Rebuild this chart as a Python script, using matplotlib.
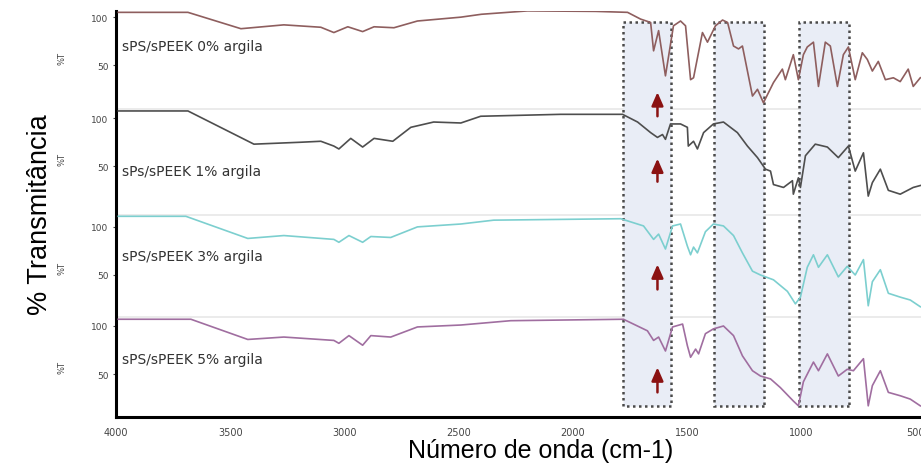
import numpy as np
import matplotlib
matplotlib.use('Agg')
import matplotlib.pyplot as plt
from matplotlib.transforms import blended_transform_factory

# --- data (wavenumber in cm-1, transmittance in %) ---
labels = ['sPS/sPEEK 0% argila', 'sPs/sPEEK 1% argila',
          'sPS/sPEEK 3% argila', 'sPS/sPEEK 5% argila']
colors = ['#8e5e5e', '#4e4e4e', '#7ccfcf', '#a06ea0']

w0 = [3990, 3685, 3453, 3265, 3103, 3046, 2985, 2920, 2870, 2783,
      2680, 2490, 2400, 2198, 1900, 1760, 1703, 1659, 1646, 1624,
      1594, 1559, 1528, 1506, 1484, 1471, 1432, 1410, 1375, 1344,
      1322, 1296, 1274, 1257, 1213, 1191, 1165, 1121, 1082, 1069,
      1034, 1012, 990, 973, 946, 924, 894, 872, 841, 815,
      793, 763, 732, 710, 688, 662, 631, 596, 566, 531, 509, 478]
t0 = [105, 105, 88, 92, 89.5, 84, 90, 85, 90, 89,
      96, 100, 103, 106.5, 106, 105, 98, 94.5, 65, 86,
      39, 91, 96, 91, 35, 37, 84, 74, 91, 97,
      94.5, 70, 67, 70, 18, 25, 11, 32, 46, 35,
      61, 35, 61, 69, 74, 28, 74, 70, 28, 61,
      69, 35, 63, 56, 44, 54, 35, 37, 33, 46, 28, 37]

w1 = [3990, 3685, 3396, 3190, 3103, 3046, 3024, 2972, 2920, 2870,
      2788, 2709, 2609, 2490, 2403, 2053, 1782, 1716, 1659, 1629,
      1607, 1594, 1572, 1528, 1498, 1494, 1471, 1454, 1427, 1384,
      1340, 1279, 1235, 1191, 1156, 1134, 1121, 1077, 1038, 1034,
      1012, 1003, 981, 938, 885, 837, 793, 763, 727, 706,
      688, 653, 618, 566, 509, 478]
t1 = [107.5, 107.5, 73, 75, 76, 71, 68, 79, 70, 79,
      76, 90.5, 96, 95, 102, 104, 104, 96, 85, 80,
      83, 78, 94, 94, 90.5, 71, 76, 68, 85, 94,
      96, 85, 71, 59, 47, 45, 31, 28, 35, 21,
      38, 28, 61, 73, 70, 59, 71, 45, 64, 19,
      33, 47, 25, 21, 28, 30]

w2 = [3990, 3694, 3423, 3265, 3046, 3024, 2980, 2920, 2884, 2797,
      2680, 2490, 2346, 1790, 1690, 1646, 1624, 1594, 1563, 1528,
      1498, 1484, 1471, 1454, 1419, 1384, 1340, 1296, 1257, 1213,
      1178, 1121, 1060, 1025, 1003, 973, 946, 924, 885, 837,
      798, 763, 727, 706, 688, 653, 618, 566, 522, 478]
t2 = [111, 111, 88, 91, 87, 84, 91, 84, 90, 89,
      100, 103, 107, 108.5, 101, 87, 92.5, 77, 101, 103,
      80, 71, 79, 73, 95, 103, 101, 91, 73, 54,
      50, 45, 33, 20, 27, 58, 71, 58, 71, 48,
      59, 50, 66, 18, 43, 55.5, 31, 27, 24, 17]

w3 = [3990, 3672, 3423, 3265, 3046, 3024, 2980, 2920, 2884, 2797,
      2680, 2490, 2272, 1778, 1673, 1646, 1624, 1594, 1563, 1519,
      1498, 1484, 1462, 1449, 1419, 1384, 1340, 1296, 1257, 1213,
      1178, 1134, 1091, 1034, 1012, 990, 946, 924, 885, 837,
      798, 771, 727, 706, 688, 653, 618, 566, 522, 478]
t3 = [107, 107, 86, 88.5, 85, 82, 90, 80, 90, 88.5,
      99, 101, 105.5, 107, 95, 85, 88.5, 74, 99, 102,
      79.5, 67.5, 76, 71, 92, 97, 100, 90, 69, 53.5,
      48, 45, 36, 22, 17, 42, 62.5, 53.5, 71, 48,
      55, 53.5, 66, 17, 38, 53.5, 31, 27.5, 24, 17]

waves = [w0, w1, w2, w3]
trans = [t0, t1, t2, t3]

# vertical shift of each stacked spectrum
offsets = [321, 216, 103, 0]
label_t = [70, 45, 70, 66]

# highlighted regions (cm-1) and arrow marker
regions = [(1568, 1782), (1161, 1380), (789, 1008)]
arrow_w = 1629
arrow_y = [(318, 343), (250, 274), (138, 164), (31, 57)]

x_ticks = [4000, 3500, 3000, 2500, 2000, 1500, 1000, 500]

fig = plt.figure(figsize=(9.21, 4.64), dpi=100)
ax = fig.add_axes([116 / 921, 46 / 464, 805 / 921, 406 / 464])
ax.set_xlim(4000, 475)
ax.set_ylim(5.4, 427.4)

for lo, hi in regions:
    ax.axvspan(lo, hi, ymin=0.027, ymax=0.973, facecolor='#e9edf6',
               edgecolor='#4a4a4a', linestyle=(0, (1, 1.4)), linewidth=1.8,
               zorder=1)

# faint separators between the stacked spectra
for y in [325.6, 215.4, 109.4]:
    ax.axhline(y, color='#e8e8e8', lw=1.2, zorder=0)

for w, t, off, c in zip(waves, trans, offsets, colors):
    ax.plot(w, np.array(t) + off, color=c, lw=1.2, zorder=3)

for lab, off, lt in zip(labels, offsets, label_t):
    ax.text(3975, lt + off, lab, fontsize=10, color='#333333',
            va='center', ha='left', family='DejaVu Sans', zorder=4)

for y0, y1 in arrow_y:
    ax.annotate('', xy=(arrow_w, y1), xytext=(arrow_w, y0),
                arrowprops=dict(arrowstyle='-|>,head_width=0.35,head_length=0.8',
                                color='#8b1212', lw=1.8, mutation_scale=10,
                                shrinkA=0, shrinkB=0),
                zorder=5)

# y ticks: 100 and 50 for each spectrum
yt = []
ytl = []
for off in offsets:
    yt += [off + 100, off + 50]
    ytl += ['100', '50']
ax.set_yticks(yt)
ax.set_yticklabels(ytl, fontsize=6.5, color='#444444')
ax.tick_params(axis='y', length=2.5, width=0.8, pad=3, color='#444444')

ax.set_xticks(x_ticks)
ax.set_xticklabels([str(v) for v in x_ticks], fontsize=7, color='#444444')
ax.tick_params(axis='x', length=0, pad=7)

trans_b = blended_transform_factory(ax.transAxes, ax.transData)
for off in offsets:
    ax.text(-0.067, off + 58, '%T', transform=trans_b, rotation=90,
            fontsize=6, color='#444444', ha='center', va='center')

for s in ['top', 'right']:
    ax.spines[s].set_visible(False)
for s in ['left', 'bottom']:
    ax.spines[s].set_linewidth(2.2)
    ax.spines[s].set_color('black')

fig.text(541 / 921, 6 / 464, 'Número de onda (cm-1)', fontsize=18,
         family='Liberation Sans', ha='center', va='baseline')
fig.text(40 / 921, 1 - 215 / 464, '% Transmitância', fontsize=19.5,
         family='Liberation Sans', ha='center', va='center', rotation=90)

fig.savefig('out.png', dpi=100)
